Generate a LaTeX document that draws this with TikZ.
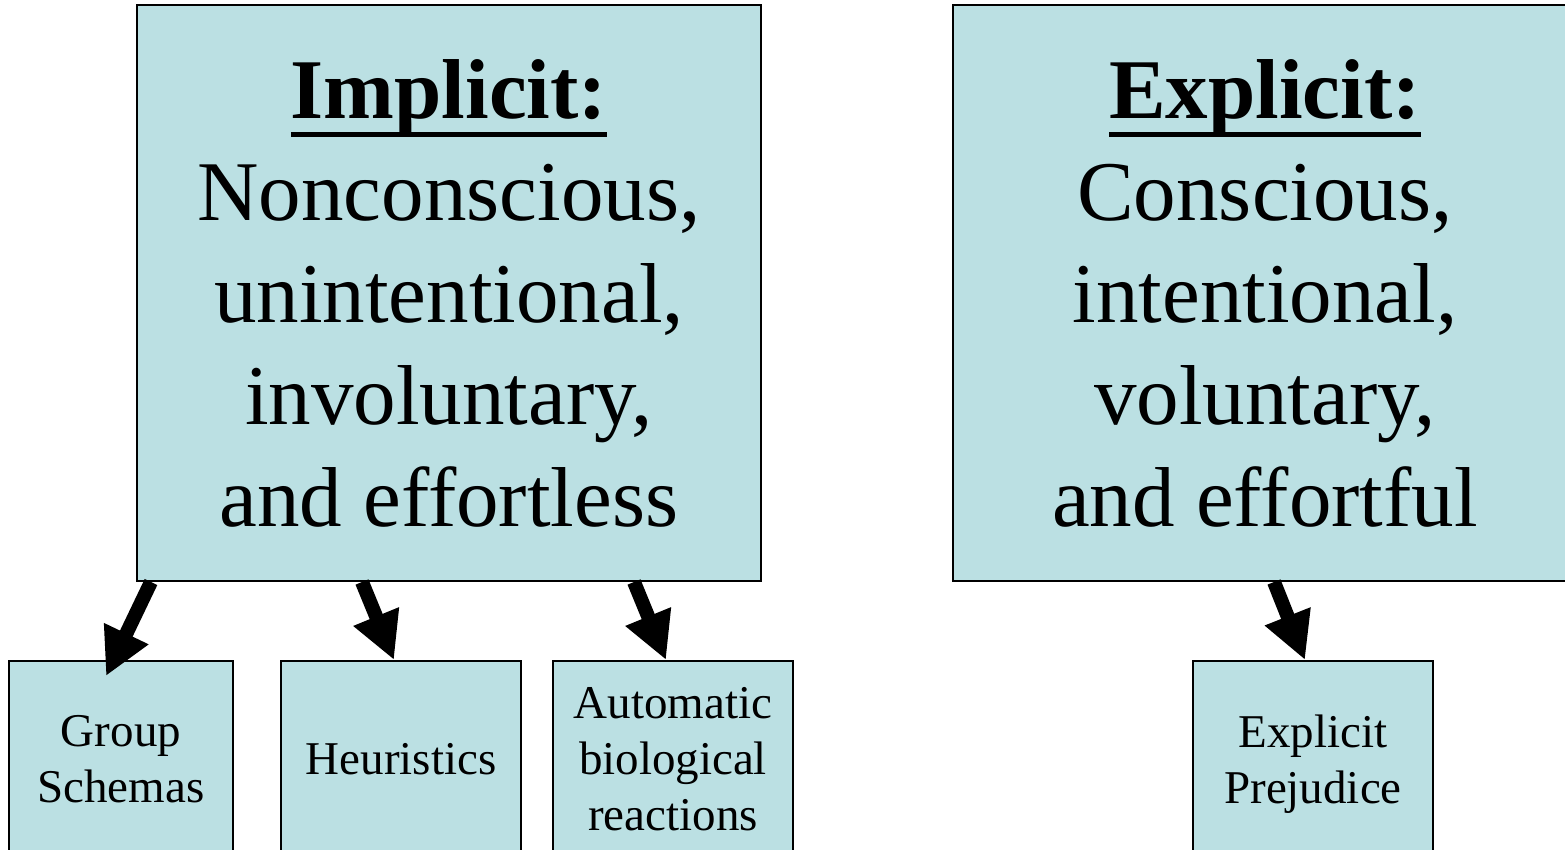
\documentclass[tikz,border=0pt]{standalone}
\usepackage{fontspec}
\setmainfont{Liberation Serif}
\usetikzlibrary{arrows.meta,calc}

\definecolor{boxfill}{HTML}{BBE0E3}

% bold heading with a heavy underline
\newcommand\ulword[1]{\setbox0\hbox{#1}\rlap{\rule[-19pt]{\wd0}{5pt}}\box0}
% a line whose descenders do not count for centring
\newcommand\nodepth[1]{\raisebox{0pt}[\height][0pt]{#1}}

\tikzset{
  panel/.style={draw=black, line width=2pt, fill=boxfill, inner sep=0pt,
    align=center, minimum width=624pt, minimum height=576pt,
    font=\fontsize{85}{102}\selectfont},
  leaf/.style={draw=black, line width=2pt, fill=boxfill, inner sep=0pt,
    align=center, minimum width=240pt, minimum height=197pt,
    font=\fontsize{47}{56}\selectfont},
  fatarrow/.style={line width=14pt, -{Triangle[width=46pt,length=47pt]}}
}

\begin{document}
\begin{tikzpicture}[x=1pt,y=-1pt]
  \useasboundingbox (0,0) rectangle (1565,849);
  \clip (0,0) rectangle (1565,849);

  % the two top-level categories
  \node[panel] (impl) at (449,293)
    {\ulword{\textbf{Implicit:}}\\Nonconscious,\\unintentional,\\involuntary,\\and effortless};
  \node[panel] (expl) at (1265,293)
    {\ulword{\textbf{Explicit:}}\\Conscious,\\intentional,\\voluntary,\\and effortful};

  % their outcomes
  \node[leaf, minimum width=224pt] (gs) at (121,759.5) {Group\\Schemas};
  \node[leaf] (heur) at (401,759.5) {Heuristics};
  \node[leaf] (auto) at (673,759.5) {Automatic\\biological\\reactions};
  \node[leaf] (ep) at (1313,759.5) {Explicit\\\nodepth{Prejudice}};

  % links
  \draw[fatarrow] ($(impl.south west)+(15,0)$) -- ($(gs.north)+(-15,16)$);
  \draw[fatarrow] ($(impl.south west)+(226,0)$) -- ($(heur.north)+(-7,0)$);
  \draw[fatarrow] ($(impl.south west)+(498,0)$) -- ($(auto.north)+(-7,0)$);
  \draw[fatarrow] ($(expl.south west)+(322,0)$) -- ($(ep.north)+(-8,0)$);
\end{tikzpicture}
\end{document}
